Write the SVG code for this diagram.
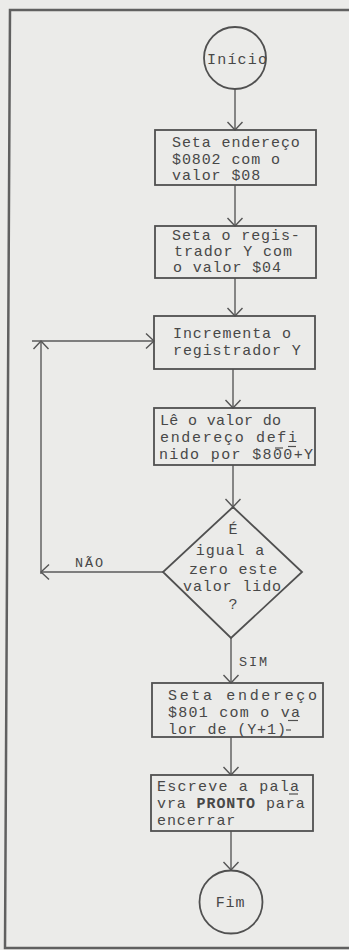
<svg xmlns="http://www.w3.org/2000/svg" width="349" height="950" viewBox="0 0 349 950">
<style>
.bg{fill:#ebebe9}
.frame{fill:none;stroke:#606060;stroke-width:2.5}
.shape{fill:none;stroke:#505050;stroke-width:1.8}
.edge{fill:none;stroke:#5a5a5a;stroke-width:1.4}
.mark{stroke:#505050;stroke-width:1.2}
text{font-family:"Liberation Mono","Courier New",monospace;font-size:15px;letter-spacing:0.9px;fill:#484848}
.fit{letter-spacing:0}
.lbl{font-size:13.5px;letter-spacing:0}
</style>
<defs>
<marker id="arr" viewBox="-9 -9 10 18" refX="0" refY="0" markerWidth="10" markerHeight="18" markerUnits="userSpaceOnUse" orient="auto">
<path d="M-8,-7.5 L0,0 L-8,7.5" fill="none" stroke="#555" stroke-width="1.4"/>
</marker>
</defs>
<rect class="bg" x="0" y="0" width="349" height="950"/>
<path class="frame" d="M349,10 L10,10 L5,948 L349,948"/>

<g id="connectors">
<line class="edge" x1="235" y1="89" x2="235" y2="130" marker-end="url(#arr)"/>
<line class="edge" x1="235" y1="185" x2="235" y2="226" marker-end="url(#arr)"/>
<line class="edge" x1="235" y1="278" x2="235" y2="316" marker-end="url(#arr)"/>
<line class="edge" x1="233" y1="369" x2="233" y2="408" marker-end="url(#arr)"/>
<line class="edge" x1="233" y1="465" x2="233" y2="507" marker-end="url(#arr)"/>
<line class="edge" x1="163" y1="572" x2="41" y2="572" marker-end="url(#arr)"/>
<line class="edge" x1="41" y1="574" x2="41" y2="341" marker-end="url(#arr)"/>
<line class="edge" x1="32" y1="341" x2="154" y2="341" marker-end="url(#arr)"/>
<line class="edge" x1="231" y1="638" x2="231" y2="683" marker-end="url(#arr)"/>
<line class="edge" x1="231" y1="737" x2="231" y2="775" marker-end="url(#arr)"/>
<line class="edge" x1="231" y1="831" x2="231" y2="870" marker-end="url(#arr)"/>
<text class="lbl" x="75" y="567" textLength="28" lengthAdjust="spacing">NÃO</text>
<text class="lbl" x="239" y="666" textLength="28" lengthAdjust="spacing">SIM</text>
</g>

<g id="inicio">
<circle class="shape" cx="235" cy="58" r="31"/>
<text class="fit" x="207" y="64" textLength="60" lengthAdjust="spacing">Início</text>
</g>

<g id="seta-endereco-0802">
<rect class="shape" x="155" y="130" width="161" height="55"/>
<text x="172" y="147">Seta endereço</text>
<text x="172" y="163.5">$0802 com o</text>
<text x="172" y="180">valor $08</text>
</g>

<g id="seta-registrador">
<rect class="shape" x="155" y="226" width="161" height="52"/>
<text x="172" y="240">Seta o regis-</text>
<text x="174" y="256">trador Y com</text>
<text x="173" y="272">o valor $04</text>
</g>

<g id="incrementa">
<rect class="shape" x="154" y="316" width="161" height="53"/>
<text x="173" y="338">Incrementa o</text>
<text x="173" y="355">registrador Y</text>
</g>

<g id="le-valor">
<rect class="shape" x="154" y="408" width="161" height="57"/>
<text class="fit" x="160" y="425" textLength="121" lengthAdjust="spacing">Lê o valor do</text>
<text class="fit" x="160" y="442" textLength="137" lengthAdjust="spacing">endereço defi</text>
<text class="fit" x="159" y="458.5" textLength="154" lengthAdjust="spacing">nido por $800+Y</text>
<line class="mark" x1="288" y1="446.5" x2="296" y2="446.5"/>
<line class="mark" x1="275" y1="448" x2="283" y2="448"/>
</g>

<g id="decisao">
<polygon class="shape" points="233,507 302,572 231,638 163,572"/>
<text x="233.5" y="534" text-anchor="middle">É</text>
<text x="230.5" y="555" text-anchor="middle">igual a</text>
<text x="233.5" y="574" text-anchor="middle">zero este</text>
<text x="232.5" y="591" text-anchor="middle">valor lido</text>
<text x="233.5" y="609" text-anchor="middle">?</text>
</g>

<g id="seta-endereco-801">
<rect class="shape" x="152" y="683" width="171" height="54"/>
<text class="fit" x="168" y="700" textLength="149" lengthAdjust="spacing">Seta endereço</text>
<text class="fit" x="168" y="717" textLength="132" lengthAdjust="spacing">$801 com o va</text>
<text x="168" y="733.5">lor de (Y+1)</text>
<line class="mark" x1="288" y1="720.5" x2="298" y2="720.5"/>
<line class="mark" x1="286" y1="730" x2="291" y2="730"/>
</g>

<g id="escreve-pronto">
<rect class="shape" x="151" y="775" width="162" height="56"/>
<text class="fit" x="157" y="791" textLength="142" lengthAdjust="spacing">Escreve a pala</text>
<text x="157" y="808">vra <tspan font-weight="bold">PRONTO</tspan> para</text>
<text x="157" y="825">encerrar</text>
<line class="mark" x1="289" y1="794" x2="298" y2="794"/>
</g>

<g id="fim">
<circle class="shape" cx="231" cy="902" r="31.5"/>
<text x="230.5" y="907" text-anchor="middle">Fim</text>
</g>
</svg>
